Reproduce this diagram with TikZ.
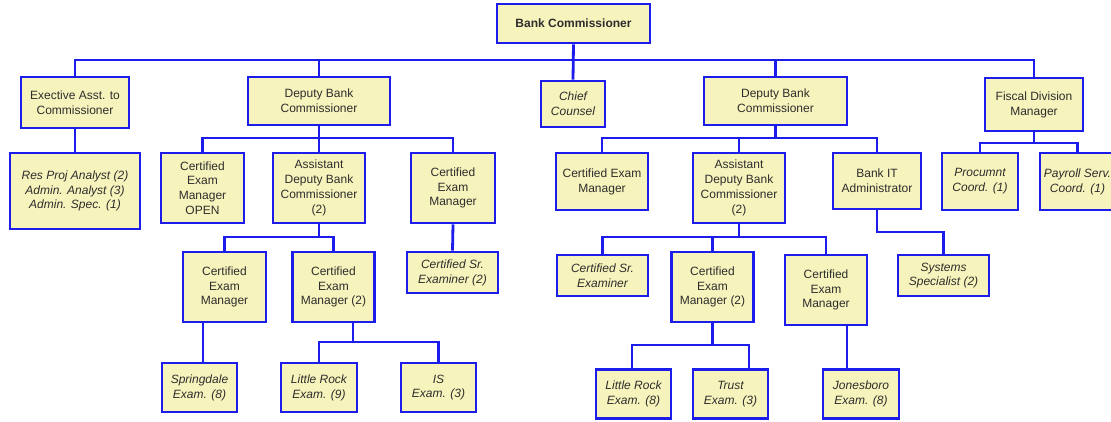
\documentclass[tikz,border=0pt]{standalone}
\usepackage{fontspec}
\setmainfont{Liberation Sans}
\definecolor{bblue}{RGB}{28,28,235}
\definecolor{byellow}{RGB}{247,243,188}
\definecolor{btext}{RGB}{45,45,45}
\begin{document}
\begin{tikzpicture}[x=1pt,y=-1pt,
 box/.style={draw=bblue,line width=2.8pt,fill=byellow,align=center,inner sep=0pt,
   font=\fontsize{12}{14.8}\selectfont,text=btext},
 ibox/.style={box,font=\fontsize{12}{14.8}\selectfont\itshape},
 conn/.style={draw=bblue,line width=2.8pt}]
\useasboundingbox (0,0) rectangle (1111,421);
\fill[white] (0,0) rectangle (1111,421);
% bus levels
\coordinate (b0) at (0,60);
\coordinate (b1) at (0,138);
\coordinate (b2) at (0,143);
\coordinate (b3) at (0,237);
\coordinate (b4) at (0,232);
\coordinate (b5) at (0,342);
\coordinate (b6) at (0,345);
% level 0
\node[box,minimum width=153pt,minimum height=39pt] (bc) at (573.5,23.5) {\bfseries Bank Commissioner};
% level 1
\node[box,minimum width=108pt,minimum height=51pt] (exa) at (75,102.5) {Exective Asst. to\\Commissioner};
\node[box,minimum width=142pt,minimum height=48pt] (dl) at (319,101) {Deputy Bank\\Commissioner};
\node[ibox,minimum width=64pt,minimum height=46pt] (cc) at (573,104) {Chief\\Counsel};
\node[box,minimum width=143pt,minimum height=48pt] (dr) at (775.5,101) {Deputy Bank\\Commissioner};
\node[box,minimum width=98pt,minimum height=53pt] (fis) at (1034,104.5) {Fiscal Division\\Manager};
% level 2
\node[ibox,minimum width=130pt,minimum height=76pt] (rpa) at (75,191) {Res Proj Analyst (2)\\Admin. Analyst (3)\\Admin. Spec. (1)};
\node[box,minimum width=83pt,minimum height=70pt] (cemo) at (202.5,188) {Certified\\Exam\\Manager\\OPEN};
\node[box,minimum width=92pt,minimum height=70pt] (adl) at (319,188) {Assistant\\Deputy Bank\\Commissioner\\(2)};
\node[box,minimum width=84pt,minimum height=70pt] (cem3) at (453,188) {Certified\\Exam\\Manager};
\node[box,minimum width=92pt,minimum height=57pt] (cemr1) at (602,181.5) {Certified Exam\\Manager};
\node[box,minimum width=92pt,minimum height=70pt] (adr) at (739,188) {Assistant\\Deputy Bank\\Commissioner\\(2)};
\node[box,minimum width=88pt,minimum height=56pt] (bit) at (877,181) {Bank IT\\Administrator};
\node[ibox,minimum width=76pt,minimum height=57pt] (proc) at (980,181.5) {Procumnt\\Coord. (1)};
\node[ibox,minimum width=75pt,minimum height=57pt] (pay) at (1077.5,181.5) {Payroll Serv.\\Coord. (1)};
% level 3
\node[box,minimum width=83pt,minimum height=70pt] (l3a) at (224.5,287) {Certified\\Exam\\Manager};
\node[box,minimum width=82pt,minimum height=70pt] (l3b) at (333.5,287) {Certified\\Exam\\Manager (2)};
\node[ibox,minimum width=91pt,minimum height=41pt] (csr2) at (452.5,272.5) {Certified Sr.\\Examiner (2)};
\node[ibox,minimum width=91pt,minimum height=41pt] (csr) at (602.5,275.5) {Certified Sr.\\Examiner};
\node[box,minimum width=82pt,minimum height=70pt] (cem2r) at (712.5,287) {Certified\\Exam\\Manager (2)};
\node[box,minimum width=82pt,minimum height=70pt] (cemr) at (826,290) {Certified\\Exam\\Manager};
\node[ibox,minimum width=91pt,minimum height=41pt] (sys) at (943.5,275.5) {Systems\\Specialist (2)};
% level 4
\node[ibox,minimum width=75pt,minimum height=49pt] (spr) at (199.5,387.5) {Springdale\\Exam. (8)};
\node[ibox,minimum width=76pt,minimum height=49pt] (lr9) at (319,387.5) {Little Rock\\Exam. (9)};
\node[ibox,minimum width=75pt,minimum height=49pt] (is) at (438.5,387.5) {IS\\Exam. (3)};
\node[ibox,minimum width=75pt,minimum height=49pt] (lr8) at (633.5,394) {Little Rock\\Exam. (8)};
\node[ibox,minimum width=75pt,minimum height=49pt] (trust) at (730.5,394) {Trust\\Exam. (3)};
\node[ibox,minimum width=76pt,minimum height=49pt] (jon) at (861,394) {Jonesboro\\Exam. (8)};
% connectors
\draw[conn] (bc.south) -- (cc.north);
\draw[conn] (exa.north) -- (exa.north |- b0) -- (fis.north |- b0) -- (fis.north);
\draw[conn] (dl.north) -- (dl.north |- b0);
\draw[conn] (dr.north) -- (dr.north |- b0);
\draw[conn] (exa.south) -- (rpa.north);
\draw[conn] (dl.south) -- (dl.south |- b1);
\draw[conn] (cemo.north) -- (cemo.north |- b1) -- (cem3.north |- b1) -- (cem3.north);
\draw[conn] (adl.north) -- (adl.north |- b1);
\draw[conn] (dr.south) -- (dr.south |- b1);
\draw[conn] (cemr1.north) -- (cemr1.north |- b1) -- (bit.north |- b1) -- (bit.north);
\draw[conn] (adr.north) -- (adr.north |- b1);
\draw[conn] (fis.south) -- (fis.south |- b2);
\draw[conn] (proc.north) -- (proc.north |- b2) -- (pay.north |- b2) -- (pay.north);
\draw[conn] (adl.south) -- (adl.south |- b3);
\draw[conn] (l3a.north) -- (l3a.north |- b3) -- (l3b.north |- b3) -- (l3b.north);
\draw[conn] (cem3.south) -- (csr2.north);
\draw[conn] (adr.south) -- (adr.south |- b3);
\draw[conn] (csr.north) -- (csr.north |- b3) -- (cemr.north |- b3) -- (cemr.north);
\draw[conn] (cem2r.north) -- (cem2r.north |- b3);
\draw[conn] (bit.south) -- (bit.south |- b4) -- (sys.north |- b4) -- (sys.north);
\draw[conn] ([xshift=-21.5pt]l3a.south) -- ([xshift=3.5pt]spr.north);
\draw[conn] ([xshift=19.5pt]l3b.south) -- ([xshift=19.5pt]l3b.south |- b5);
\draw[conn] (lr9.north) -- (lr9.north |- b5) -- (is.north |- b5) -- (is.north);
\draw[conn] (cem2r.south) -- (cem2r.south |- b6);
\draw[conn] ([xshift=-1.5pt]lr8.north) -- ([xshift=-1.5pt]lr8.north |- b6) -- ([xshift=18.5pt]trust.north |- b6) -- ([xshift=18.5pt]trust.north);
\draw[conn] ([xshift=21pt]cemr.south) -- ([xshift=-14pt]jon.north);
\end{tikzpicture}
\end{document}
